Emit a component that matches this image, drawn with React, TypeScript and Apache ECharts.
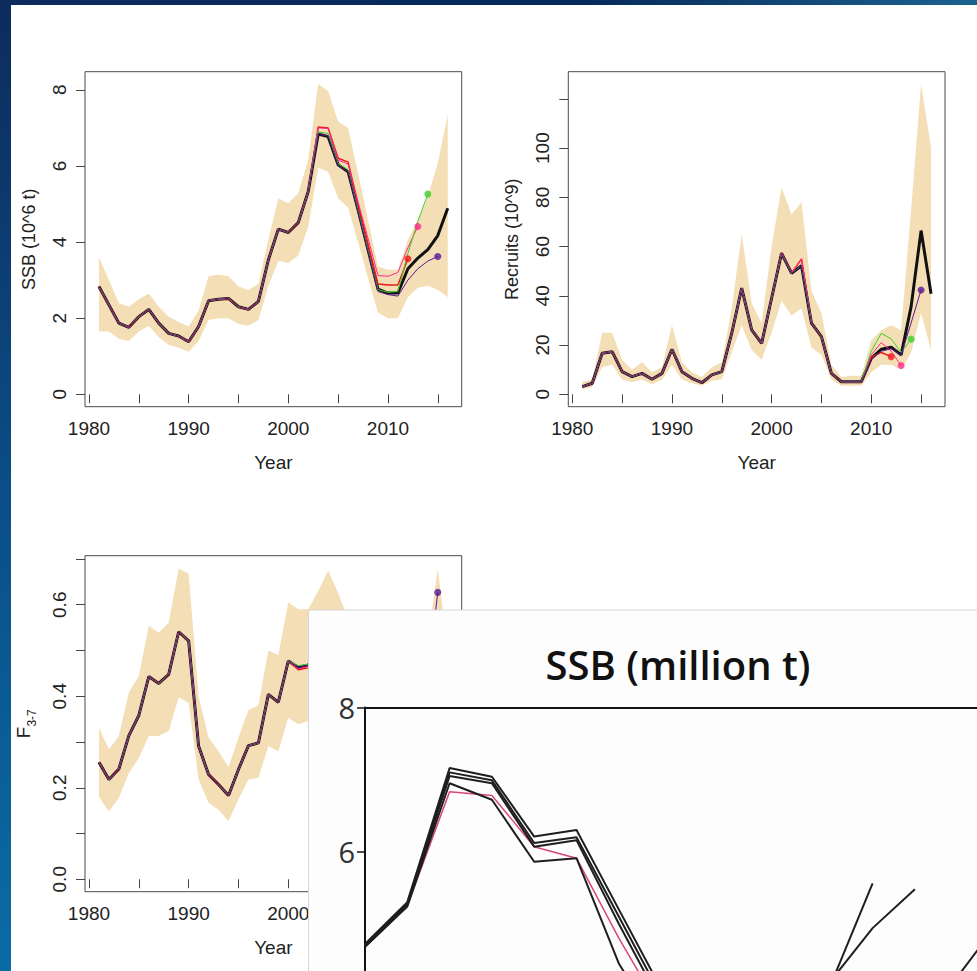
import React, { useEffect, useRef } from "react";
import * as echarts from "echarts";

// ---------- data ----------
const years = [1981, 1982, 1983, 1984, 1985, 1986, 1987, 1988, 1989, 1990, 1991, 1992, 1993, 1994, 1995, 1996, 1997, 1998, 1999, 2000, 2001, 2002, 2003, 2004, 2005, 2006, 2007, 2008, 2009, 2010, 2011, 2012, 2013, 2014, 2015, 2016];

const xTicks = [1980, 1985, 1990, 1995, 2000, 2005, 2010, 2015];
const xLabels = [1980, 1990, 2000, 2010];

// SSB (10^6 t)
const ssbMain = [2.83, 2.35, 1.87, 1.76, 2.04, 2.23, 1.87, 1.6, 1.53, 1.38, 1.78, 2.46, 2.5, 2.52, 2.3, 2.23, 2.44, 3.53, 4.34, 4.25, 4.51, 5.33, 6.84, 6.77, 6.03, 5.85, 4.85, 3.8, 2.76, 2.66, 2.66, 3.3, 3.58, 3.8, 4.17, 4.89];
const ssbUpper = [3.6, 3.0, 2.4, 2.3, 2.5, 2.65, 2.3, 2.04, 1.9, 1.78, 2.2, 3.1, 3.14, 3.1, 2.83, 2.74, 2.9, 4.06, 5.15, 5.02, 5.28, 6.16, 8.15, 7.96, 7.17, 7.0, 5.8, 4.58, 3.36, 3.27, 3.27, 4.06, 4.58, 5.2, 6.07, 7.34];
const ssbLower = [1.65, 1.65, 1.45, 1.4, 1.65, 1.8, 1.5, 1.3, 1.22, 1.12, 1.4, 1.95, 2.0, 2.0, 1.85, 1.8, 1.95, 2.85, 3.5, 3.45, 3.65, 4.4, 5.95, 5.85, 5.15, 4.9, 4.0, 3.05, 2.15, 2.0, 2.0, 2.55, 2.8, 2.85, 2.75, 2.55];
const ssbRed = [2.83, 2.35, 1.87, 1.76, 2.04, 2.23, 1.87, 1.6, 1.53, 1.38, 1.78, 2.46, 2.5, 2.52, 2.3, 2.23, 2.44, 3.53, 4.34, 4.25, 4.51, 5.33, 7.02, 7.0, 6.2, 6.1, 5.0, 3.95, 2.9, 2.87, 2.87, 3.56];
const ssbPink = [2.83, 2.35, 1.87, 1.76, 2.04, 2.23, 1.87, 1.6, 1.53, 1.38, 1.78, 2.46, 2.5, 2.52, 2.3, 2.23, 2.44, 3.53, 4.34, 4.25, 4.51, 5.33, 7.0, 6.98, 6.15, 6.05, 5.05, 4.1, 3.12, 3.1, 3.2, 3.85, 4.41];
const ssbGreen = [2.83, 2.35, 1.87, 1.76, 2.04, 2.23, 1.87, 1.6, 1.53, 1.38, 1.78, 2.46, 2.5, 2.52, 2.3, 2.23, 2.44, 3.53, 4.34, 4.25, 4.51, 5.33, 6.9, 6.85, 6.05, 5.9, 4.85, 3.8, 2.75, 2.68, 2.7, 3.7, 4.55, 5.26];
const ssbPurple = [2.83, 2.35, 1.87, 1.76, 2.04, 2.23, 1.87, 1.6, 1.53, 1.38, 1.78, 2.46, 2.5, 2.52, 2.3, 2.23, 2.44, 3.53, 4.34, 4.25, 4.51, 5.33, 6.85, 6.78, 6.0, 5.85, 4.8, 3.75, 2.7, 2.62, 2.58, 3.0, 3.3, 3.5, 3.62];
const ssbTicks = [0, 2, 4, 6, 8];

// Recruits (10^9)
const recMain = [3.1, 4.5, 16.7, 17.3, 9.2, 7.2, 8.5, 6.1, 8.5, 18.3, 9.2, 6.5, 4.7, 7.9, 9.2, 24.8, 43.1, 26.2, 20.7, 39.0, 57.3, 49.2, 52.2, 28.9, 23.4, 8.5, 5.1, 5.1, 5.1, 14.6, 18.3, 19.1, 16.0, 35.6, 66.5, 40.8];
const recUpper = [5, 6, 25, 25, 14, 10, 13, 9, 11, 28, 13, 9, 7, 11, 13, 35, 65, 37, 29, 60, 84, 73, 78, 42, 33, 12, 7, 7.5, 7.5, 22, 26, 28, 26, 75, 126, 100];
const recLower = [2, 3, 11, 12, 6, 5, 6, 4, 6, 12, 6, 4.5, 3.5, 5.5, 6, 17, 28, 18, 14, 25, 38, 32, 35, 19, 16, 6, 3.5, 3.5, 3.5, 9, 12, 12, 10, 17, 33, 18];
const recRed = [3.1, 4.5, 16.7, 17.3, 9.2, 7.2, 8.5, 6.1, 8.5, 18.3, 9.2, 6.5, 4.7, 7.9, 9.2, 24.8, 43.1, 26.2, 20.7, 39.0, 57.5, 49.2, 55.0, 28.9, 23.4, 8.5, 5.1, 5.1, 5.1, 15.0, 17.0, 15.3];
const recPink = [3.1, 4.5, 16.7, 17.3, 9.2, 7.2, 8.5, 6.1, 8.5, 18.3, 9.2, 6.5, 4.7, 7.9, 9.2, 24.8, 43.1, 26.2, 20.7, 39.0, 57.5, 49.2, 55.0, 28.9, 23.4, 8.5, 5.1, 5.1, 5.1, 16.0, 21.0, 17.5, 11.7];
const recGreen = [3.1, 4.5, 16.7, 17.3, 9.2, 7.2, 8.5, 6.1, 8.5, 18.3, 9.2, 6.5, 4.7, 7.9, 9.2, 24.8, 43.1, 26.2, 20.7, 39.0, 57.3, 49.2, 52.2, 28.9, 23.4, 8.5, 5.1, 5.1, 5.1, 17.5, 24.8, 22.5, 17.0, 22.4];
const recPurple = [3.1, 4.5, 16.7, 17.3, 9.2, 7.2, 8.5, 6.1, 8.5, 18.3, 9.2, 6.5, 4.7, 7.9, 9.2, 24.8, 43.1, 26.2, 20.7, 39.0, 57.3, 49.2, 52.2, 28.9, 23.4, 8.5, 5.1, 5.1, 5.1, 14.2, 17.5, 18.5, 16.0, 29.0, 42.4];
const recTicks = [0, 20, 40, 60, 80, 100, 120];
const recLabels = [0, 20, 40, 60, 80, 100];

// F 3-7
const fMain = [0.256, 0.218, 0.241, 0.314, 0.358, 0.443, 0.428, 0.448, 0.541, 0.521, 0.291, 0.229, 0.207, 0.183, 0.24, 0.292, 0.298, 0.404, 0.387, 0.477, 0.463, 0.468, 0.5, 0.56, 0.52, 0.47, 0.42, 0.38, 0.36, 0.33, 0.34, 0.36, 0.38, 0.4, 0.42];
const fUpper = [0.331, 0.284, 0.313, 0.408, 0.444, 0.554, 0.539, 0.561, 0.68, 0.667, 0.4, 0.31, 0.28, 0.245, 0.31, 0.37, 0.38, 0.5, 0.49, 0.605, 0.59, 0.59, 0.63, 0.675, 0.625, 0.57, 0.52, 0.49, 0.47, 0.44, 0.45, 0.48, 0.5, 0.52, 0.68, 0.5];
const fLower = [0.18, 0.148, 0.178, 0.232, 0.265, 0.313, 0.313, 0.324, 0.397, 0.386, 0.218, 0.167, 0.152, 0.127, 0.175, 0.218, 0.222, 0.291, 0.28, 0.353, 0.339, 0.346, 0.37, 0.41, 0.38, 0.34, 0.3, 0.27, 0.25, 0.23, 0.24, 0.26, 0.28, 0.3, 0.4, 0.3];
const fRed = [0.256, 0.218, 0.241, 0.314, 0.358, 0.443, 0.428, 0.448, 0.541, 0.521, 0.291, 0.229, 0.207, 0.183, 0.24, 0.292, 0.298, 0.404, 0.387, 0.477, 0.458, 0.462, 0.49, 0.55, 0.51, 0.46, 0.41, 0.37, 0.35, 0.32, 0.33, 0.35];
const fPink = [0.256, 0.218, 0.241, 0.314, 0.358, 0.443, 0.428, 0.448, 0.541, 0.521, 0.291, 0.229, 0.207, 0.183, 0.24, 0.292, 0.298, 0.404, 0.387, 0.477, 0.46, 0.465, 0.49, 0.54, 0.5, 0.45, 0.4, 0.36, 0.34, 0.31, 0.32, 0.34, 0.37];
const fGreen = [0.256, 0.218, 0.241, 0.314, 0.358, 0.443, 0.428, 0.448, 0.541, 0.521, 0.291, 0.229, 0.207, 0.183, 0.24, 0.292, 0.298, 0.404, 0.387, 0.477, 0.467, 0.47, 0.5, 0.56, 0.52, 0.47, 0.42, 0.38, 0.36, 0.33, 0.34, 0.36, 0.38, 0.36];
const fPurple = [0.256, 0.218, 0.241, 0.314, 0.358, 0.443, 0.428, 0.448, 0.541, 0.521, 0.291, 0.229, 0.207, 0.183, 0.24, 0.292, 0.298, 0.404, 0.387, 0.477, 0.463, 0.468, 0.5, 0.56, 0.52, 0.47, 0.42, 0.38, 0.36, 0.33, 0.34, 0.36, 0.38, 0.44, 0.627];
const fTicks = [0, 0.1, 0.2, 0.3, 0.4, 0.5, 0.6, 0.7];
const fLabels = [0, 0.2, 0.4, 0.6];

// Inset: SSB (million t), retrospective runs
const insetYears = [2001, 2002, 2003, 2004, 2005, 2006, 2007, 2008, 2009, 2010, 2011, 2012, 2013, 2014, 2015, 2016];
const insetA = [4.72, 5.3, 7.16, 7.04, 6.21, 6.3, 5.2, 4.1, 2.95, 2.85, 2.9, 4.14, 5.56];
const insetB = [4.7, 5.28, 7.1, 6.99, 6.12, 6.2, 5.1, 4.0, 2.85, 2.75, 2.8, 4.2, 4.94, 5.48];
const insetC = [4.68, 5.25, 7.05, 6.95, 6.07, 6.16, 5.0, 3.9, 2.75, 2.65, 2.65, 3.3, 3.6, 3.85, 4.26, 5.04];
const insetD = [4.68, 5.24, 6.95, 6.72, 5.86, 5.91, 4.45, 3.5, 2.7, 2.6, 2.6, 3.2, 3.5, 3.7, 3.85];
const insetPink = [4.7, 5.25, 6.83, 6.78, 6.07, 5.91, 4.8, 3.8, 2.9, 2.85, 2.85, 3.6];
const insetLabels = [6, 8];

// ---------- styling ----------
const RFONT = "'Liberation Sans', Arial, sans-serif";
const CFONT = "'Open Sans', 'Noto Sans', sans-serif";
const BAND = "#F4DEB5";
const C_BLACK = "#111111";
const C_RED = "#f01818";
const C_PINK = "#ff2a8c";
const C_GREEN = "#3fcf2a";
const C_PURPLE = "#5a1796";

const pairs = (xs: number[], vals: number[]) => vals.map((v, i) => [xs[i], v]);

function bandSeries(gi: number, lower: number[], upper: number[]) {
  const n = upper.length;
  return {
    type: "custom",
    xAxisIndex: gi,
    yAxisIndex: gi,
    silent: true,
    z: 1,
    data: years.slice(0, n).map((y, i) => [y, lower[i], upper[i]]),
    encode: { x: 0, y: [1, 2] },
    renderItem: (params: any, api: any) => {
      if (params.dataIndex !== 0) return null;
      const pts: number[][] = [];
      for (let i = 0; i < n; i++) pts.push(api.coord([years[i], upper[i]]));
      for (let i = n - 1; i >= 0; i--) pts.push(api.coord([years[i], lower[i]]));
      return { type: "polygon", shape: { points: pts }, style: { fill: BAND, stroke: null } };
    },
  };
}

function lineSeries(gi: number, xs: number[], vals: number[], color: string, width: number, z: number) {
  return {
    type: "line",
    xAxisIndex: gi,
    yAxisIndex: gi,
    data: pairs(xs, vals),
    symbol: "none",
    silent: true,
    z,
    lineStyle: { color, width },
    itemStyle: { color },
  };
}

function dotSeries(gi: number, vals: number[], color: string) {
  const i = vals.length - 1;
  return {
    type: "scatter",
    xAxisIndex: gi,
    yAxisIndex: gi,
    data: [[years[i], vals[i]]],
    symbol: "circle",
    symbolSize: 7,
    silent: true,
    z: 5,
    itemStyle: { color },
  };
}

function rXAxis(gi: number) {
  return {
    type: "value",
    gridIndex: gi,
    min: 1979.6,
    max: 2017.4,
    axisLine: { show: false },
    axisTick: { show: true, length: 9, lineStyle: { color: "#444", width: 1 }, customValues: xTicks },
    axisLabel: {
      customValues: xLabels,
      fontFamily: RFONT,
      fontSize: 19,
      color: "#222",
      margin: 12,
      formatter: (v: number) => String(v),
    },
    splitLine: { show: false },
    name: "Year",
    nameLocation: "middle",
    nameGap: 46,
    nameTextStyle: { fontFamily: RFONT, fontSize: 19, color: "#222" },
  };
}

function rYAxis(gi: number, min: number, max: number, ticks: number[], labels: number[], name: any, fmt?: (v: number) => string, rich?: any) {
  return {
    type: "value",
    gridIndex: gi,
    min,
    max,
    axisLine: { show: false },
    axisTick: { show: true, length: 9, lineStyle: { color: "#444", width: 1 }, customValues: ticks },
    axisLabel: {
      customValues: labels,
      rotate: 90,
      fontFamily: RFONT,
      fontSize: 19,
      color: "#222",
      margin: 16,
      formatter: fmt ? (v: number) => fmt(v) : (v: number) => String(v),
    },
    splitLine: { show: false },
    name,
    nameLocation: "middle",
    nameGap: 47,
    nameRotate: 90,
    nameTextStyle: { fontFamily: RFONT, fontSize: 18, color: "#222", rich },
  };
}

const gridBox = { show: true, borderColor: "#4a4a4a", borderWidth: 1, backgroundColor: "transparent" };

// visible window of the inset (the inset is cut by the page edges)
const INSET_LEFT = 365;
const INSET_TOP = 707.5;
const INSET_PX_PER_YEAR = 42.3;
const INSET_PX_PER_UNIT = 72.1;
const INSET_W = 977 - INSET_LEFT;
const INSET_H = 971 - INSET_TOP;

export default function App() {
  const ref = useRef<HTMLDivElement>(null);
  useEffect(() => {
    if (!ref.current) return;
    const chart = echarts.init(ref.current, null, { renderer: "svg" });
    const option: any = {
      animation: false,
      backgroundColor: "#ffffff",
      grid: [
        { ...gridBox, left: 85, top: 71.7, width: 376.7, height: 335 },
        { ...gridBox, left: 568.3, top: 71.7, width: 376.7, height: 335 },
        { ...gridBox, left: 85, top: 555.7, width: 376.7, height: 336 },
        { show: false, left: INSET_LEFT, top: INSET_TOP, width: INSET_W, height: INSET_H },
      ],
      xAxis: [
        rXAxis(0),
        rXAxis(1),
        rXAxis(2),
        {
          type: "value",
          gridIndex: 3,
          min: 2001,
          max: 2001 + INSET_W / INSET_PX_PER_YEAR,
          position: "top",
          z: 30,
          axisLine: { show: true, lineStyle: { color: "#111", width: 2 } },
          axisTick: { show: false },
          axisLabel: { show: false },
          splitLine: { show: false },
        },
      ],
      yAxis: [
        rYAxis(0, -0.326, 8.476, ssbTicks, ssbTicks, "SSB (10^6 t)"),
        rYAxis(1, -5.04, 131.04, recTicks, recLabels, "Recruits (10^9)"),
        rYAxis(2, -0.0272, 0.7072, fTicks, fLabels, "{a|F}{b|3-7}", (v) => v.toFixed(1), {
          a: { fontFamily: RFONT, fontSize: 19, color: "#222", verticalAlign: "bottom", padding: [0, 0, 5, 0] },
          b: { fontFamily: RFONT, fontSize: 12, color: "#222", verticalAlign: "bottom" },
        }),
        {
          type: "value",
          gridIndex: 3,
          min: 8 - INSET_H / INSET_PX_PER_UNIT,
          max: 8,
          z: 30,
          axisLine: { show: true, lineStyle: { color: "#111", width: 2 } },
          axisTick: { show: true, length: 8, lineStyle: { color: "#111", width: 1.5 }, customValues: insetLabels },
          axisLabel: { customValues: insetLabels, fontFamily: CFONT, fontSize: 29, color: "#333", margin: 10 },
          splitLine: { show: false },
        },
      ],
      graphic: [
        {
          type: "rect",
          z: 20,
          silent: true,
          shape: { x: 308.5, y: 610, width: 700, height: 400 },
          style: { fill: "#fdfdfd", stroke: "#d6d6d6", lineWidth: 1 },
        },
        {
          type: "text",
          z: 40,
          silent: true,
          x: 678,
          y: 664,
          style: {
            text: "SSB (million t)",
            fontFamily: CFONT,
            fontWeight: 600,
            fontSize: 40,
            fill: "#111",
            align: "center",
            verticalAlign: "middle",
          },
        },
        {
          type: "rect",
          z: 50,
          silent: true,
          shape: { x: 0, y: 0, width: 977, height: 5 },
          style: {
            fill: {
              type: "linear", x: 0, y: 0, x2: 1, y2: 0,
              colorStops: [
                { offset: 0, color: "#0d2b5c" },
                { offset: 0.6, color: "#062a5b" },
                { offset: 1, color: "#1c6290" },
              ],
            },
          },
        },
        {
          type: "rect",
          z: 50,
          silent: true,
          shape: { x: 0, y: 0, width: 11, height: 971 },
          style: {
            fill: {
              type: "linear", x: 0, y: 0, x2: 0, y2: 1,
              colorStops: [
                { offset: 0, color: "#0d2b5c" },
                { offset: 0.5, color: "#0b4d86" },
                { offset: 1, color: "#0a6ca5" },
              ],
            },
          },
        },
      ],
      series: [
        // SSB panel
        bandSeries(0, ssbLower, ssbUpper),
        lineSeries(0, years, ssbMain, C_BLACK, 3, 2),
        lineSeries(0, years, ssbRed, C_RED, 1.5, 3),
        lineSeries(0, years, ssbPink, C_PINK, 1, 3),
        lineSeries(0, years, ssbGreen, C_GREEN, 1, 3),
        lineSeries(0, years, ssbPurple, C_PURPLE, 1, 3),
        dotSeries(0, ssbRed, C_RED),
        dotSeries(0, ssbPink, C_PINK),
        dotSeries(0, ssbGreen, C_GREEN),
        dotSeries(0, ssbPurple, C_PURPLE),
        // Recruits panel
        bandSeries(1, recLower, recUpper),
        lineSeries(1, years, recMain, C_BLACK, 3, 2),
        lineSeries(1, years, recRed, C_RED, 1.5, 3),
        lineSeries(1, years, recPink, C_PINK, 1, 3),
        lineSeries(1, years, recGreen, C_GREEN, 1, 3),
        lineSeries(1, years, recPurple, C_PURPLE, 1, 3),
        dotSeries(1, recRed, C_RED),
        dotSeries(1, recPink, C_PINK),
        dotSeries(1, recGreen, C_GREEN),
        dotSeries(1, recPurple, C_PURPLE),
        // F panel
        bandSeries(2, fLower, fUpper),
        lineSeries(2, years, fMain, C_BLACK, 3, 2),
        lineSeries(2, years, fRed, C_RED, 1.5, 3),
        lineSeries(2, years, fPink, C_PINK, 1, 3),
        lineSeries(2, years, fGreen, C_GREEN, 1, 3),
        lineSeries(2, years, fPurple, C_PURPLE, 1, 3),
        dotSeries(2, fRed, C_RED),
        dotSeries(2, fPink, C_PINK),
        dotSeries(2, fGreen, C_GREEN),
        dotSeries(2, fPurple, C_PURPLE),
        // Inset
        lineSeries(3, insetYears, insetPink, "#d9467a", 1.5, 30),
        lineSeries(3, insetYears, insetD, "#1e1e1e", 2, 31),
        lineSeries(3, insetYears, insetC, "#1e1e1e", 2, 31),
        lineSeries(3, insetYears, insetB, "#1e1e1e", 2, 31),
        lineSeries(3, insetYears, insetA, "#1e1e1e", 2, 31),
      ],
    };
    chart.setOption(option);
    return () => chart.dispose();
  }, []);
  return <div ref={ref} style={{ position: "fixed", left: 0, top: 0, width: 977, height: 971 }} />;
}
